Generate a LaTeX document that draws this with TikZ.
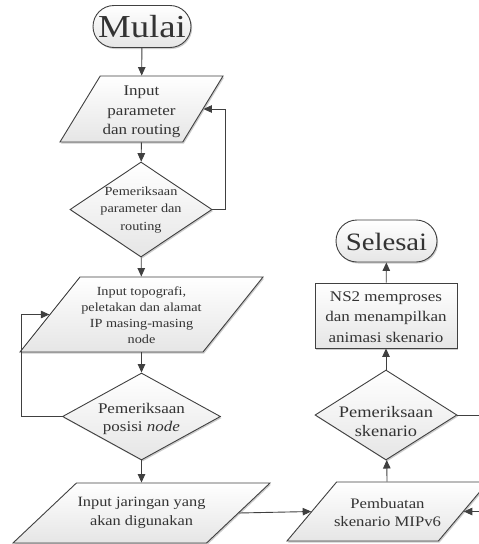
\documentclass[tikz,border=0pt]{standalone}
\usepackage{fontspec}
\setmainfont[FakeStretch=1.15]{Liberation Serif}
\usetikzlibrary{shapes.geometric,shapes.misc,shadows,arrows.meta}

\newcommand{\txtsize}[2]{\fontsize{#1}{#2}\selectfont}

\tikzset{
  ln/.style={draw=black!75, line width=0.9pt},
  box/.style={ln, top color=white, bottom color=black!10, inner sep=1pt,
    drop shadow={shadow xshift=1.2pt, shadow yshift=-1.5pt, fill=black, opacity=0.2}},
  term/.style={box, rounded rectangle},
  io/.style={box, trapezium, trapezium left angle=64, trapezium right angle=116,
    trapezium stretches=true},
  decide/.style={box, diamond},
  proc/.style={box, rectangle},
  txt/.style={align=center, inner sep=0pt, text=black!80},
  flow/.style={ln, -{Triangle[length=8.5pt,width=7.5pt]}},
}

\begin{document}
\begin{tikzpicture}[x=1pt,y=-1pt]
\useasboundingbox (0,0) rectangle (479,544);
\fill[white] (0,0) rectangle (479,544);

% left column
\node[term, minimum width=100pt, minimum height=42pt] (start) at (142,26.5) {};
\node[io, minimum width=163pt, minimum height=66pt] (p1) at (141.5,109) {};
\node[decide, minimum width=142pt, minimum height=95pt] (d1) at (141,209.5) {};
\node[io, minimum width=243pt, minimum height=75pt] (p2) at (141.5,314.5) {};
\node[decide, minimum width=158pt, minimum height=87pt] (d2) at (141.5,416.5) {};
\node[io, minimum width=257pt, minimum height=60pt] (p3) at (141.5,513) {};

% right column
\node[io, minimum width=201pt, minimum height=59pt] (p4) at (387.5,511.5) {};
\node[decide, minimum width=142pt, minimum height=90pt] (d3) at (386,415) {};
\node[proc, minimum width=142pt, minimum height=65pt] (act) at (386,315.5) {};
\node[term, minimum width=103pt, minimum height=42pt] (stop) at (386.5,241) {};

% labels
\node[txt, font=\txtsize{32}{36}] (startt) at (142,27) {Mulai};
\node[txt, font=\txtsize{14.8}{19.5}] (p1t) at (141.5,112) {Input\\parameter\\dan routing};
\node[txt, font=\txtsize{12.4}{17.5}] (d1t) at (141,210) {Pemeriksaan\\parameter dan\\routing};
\node[txt, font=\txtsize{12.4}{16}] (p2t) at (141.5,315.5) {Input topografi,\\peletakan dan alamat\\IP masing-masing\\node};
\node[txt, font=\txtsize{14.8}{18}] (d2t) at (141.5,419) {Pemeriksaan\\posisi \textit{node}};
\node[txt, font=\txtsize{14.2}{19}] (p3t) at (141.5,512.5) {Input jaringan yang\\akan digunakan};
\node[txt, font=\txtsize{14.5}{17.5}] (p4t) at (387.5,512.5) {Pembuatan\\skenario MIPv6};
\node[txt, font=\txtsize{16}{19}] (d3t) at (386,422) {Pemeriksaan\\skenario};
\node[txt, font=\txtsize{14.8}{20.5}] (actt) at (386,317) {NS2 memproses\\dan menampilkan\\animasi skenario};
\node[txt, font=\txtsize{25}{30}] (stopt) at (386.5,241.5) {Selesai};

% main flow
\draw[flow] (start) -- (p1);
\draw[flow] (p1) -- (d1);
\draw[flow] (d1) -- (p2);
\draw[flow] (p2) -- (d2);
\draw[flow] (d2) -- (p3);
\draw[flow] (p3.east) -- (p4.west);
\draw[flow] (p4) -- (d3);
\draw[flow] (d3) -- (act);
\draw[flow] (act) -- (stop);

% loops back
\draw[flow] (d1.east) -- ++(13,0) |- (p1.east);
\draw[flow] (d2.west) -- ++(-41,0) |- (p2.west);
\draw[flow] (d3.east) -- ++(40,0) |- (p4.east);
\end{tikzpicture}
\end{document}
